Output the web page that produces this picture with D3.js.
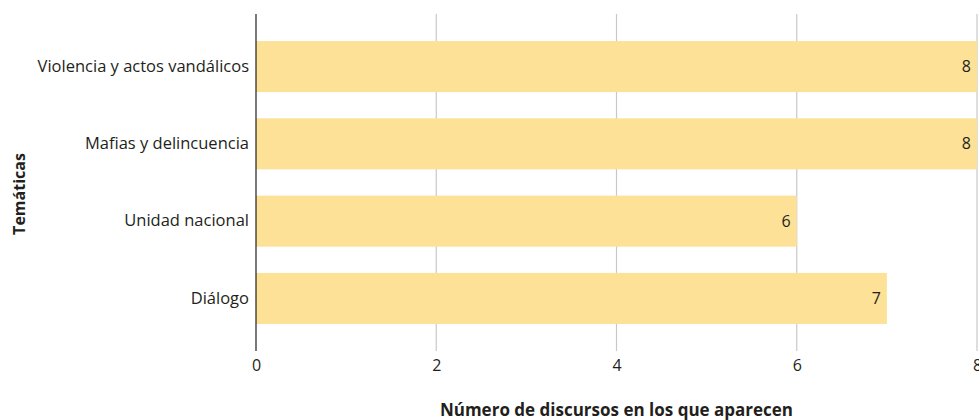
<!DOCTYPE html>
<html>
<head>
<meta charset="utf-8">
<script src="https://cdn.jsdelivr.net/npm/d3@7"></script>
<style>
  body { margin: 0; background: #fff; }
  svg text { font-family: "Open Sans", sans-serif; fill: #231f20; }
</style>
</head>
<body>
<script>
"use strict"

const categories = ['Violencia y actos vandálicos', 'Mafias y delincuencia', 'Unidad nacional', 'Diálogo']
const values = [8, 8, 6, 7]
const x_ticks = [0, 2, 4, 6, 8]

const w = 979
const h = 420
const pad_left = 256
const pad_right = 977
const pad_top = 14
const pad_bottom = 351

const x_scale = d3.scaleLinear([0, 8], [pad_left, pad_right])
const y_scale = d3.scaleBand(categories, [pad_top, pad_bottom])
   .paddingInner(0.34)
   .paddingOuter(0.35)

let svg = d3.select('body')
   .append('svg')
      .attr('width', w)
      .attr('height', h)

// grid lines
svg.append('g')
   .selectAll('line')
   .data(x_ticks.slice(1))
   .enter()
   .append('line')
      .attr('x1', d => x_scale(d))
      .attr('x2', d => x_scale(d))
      .attr('y1', pad_top)
      .attr('y2', pad_bottom)
      .attr('stroke', '#c8c8c8')
      .attr('stroke-width', 1.2)

svg.selectAll('rect.bar')
   .data(values)
   .enter()
   .append('rect')
      .attr('class', 'bar')
      .attr('x', x_scale(0))
      .attr('y', (d, i) => y_scale(categories[i]))
      .attr('width', d => x_scale(d) - x_scale(0))
      .attr('height', y_scale.bandwidth())
      .attr('fill', '#fce196')

svg.selectAll('text.val')
   .data(values)
   .enter()
   .append('text')
      .attr('class', 'val')
      .attr('x', d => x_scale(d) - 6)
      .attr('y', (d, i) => y_scale(categories[i]) + y_scale.bandwidth() / 2)
      .attr('dy', '0.35em')
      .attr('text-anchor', 'end')
      .style('font-size', '16px')
      .text(d => d)

// y axis line
svg.append('line')
   .attr('x1', x_scale(0))
   .attr('x2', x_scale(0))
   .attr('y1', pad_top)
   .attr('y2', pad_bottom)
   .attr('stroke', '#231f20')
   .attr('stroke-width', 1.2)

const x_axis = d3.axisBottom(x_scale).tickValues(x_ticks).tickSize(0).tickPadding(9)
svg.append('g')
   .attr('transform', `translate(0, ${pad_bottom})`)
   .call(x_axis)
   .call(g => g.select('.domain').remove())
   .selectAll('text')
      .style('font-size', '16px')

const y_axis = d3.axisLeft(y_scale).tickSize(0).tickPadding(7)
svg.append('g')
   .attr('transform', `translate(${pad_left}, 0)`)
   .call(y_axis)
   .call(g => g.select('.domain').remove())
   .selectAll('text')
      .style('font-size', '16.5px')

svg.append('text')
   .attr('x', (pad_left + pad_right) / 2)
   .attr('y', 416)
   .attr('text-anchor', 'middle')
   .style('font-size', '17px')
   .style('font-weight', 'bold')
   .text('Número de discursos en los que aparecen')

svg.append('text')
   .attr('transform', 'translate(25, 194) rotate(-90)')
   .attr('text-anchor', 'middle')
   .style('font-size', '16px')
   .style('font-weight', 'bold')
   .text('Temáticas')
</script>
</body>
</html>
